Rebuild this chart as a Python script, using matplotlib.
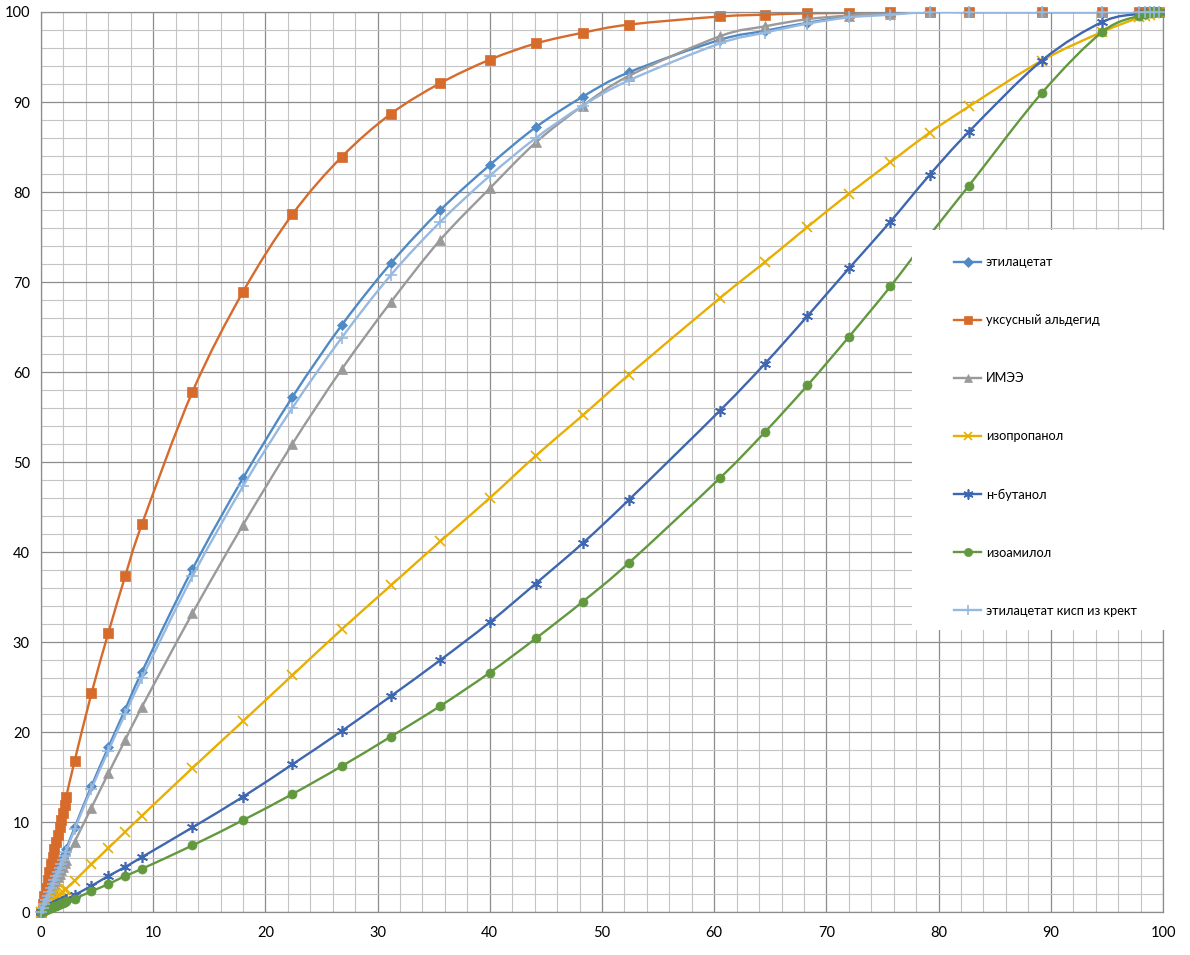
import matplotlib
matplotlib.use("Agg")
import matplotlib.pyplot as plt
from matplotlib.path import Path
from matplotlib.patches import PathPatch, Rectangle
from matplotlib.lines import Line2D
import numpy as np

plt.rcParams['font.family'] = ['Lato', 'DejaVu Sans']

# общая ось x
x = [0, 0.15, 0.3, 0.45, 0.6, 0.75, 0.9, 1.05, 1.2, 1.35, 1.5, 1.65, 1.8, 1.95, 2.1, 2.25,
     3.0, 4.5, 6.0, 7.5, 9.0, 13.5, 18.0, 22.4, 26.8, 31.2, 35.6, 40.0, 44.1, 48.3, 52.4,
     60.5, 64.5, 68.3, 72.0, 75.7, 79.2, 82.7, 89.2, 94.6, 97.9, 98.4, 98.8, 99.2, 99.6]

etilacetat = [0, 0.45, 0.9, 1.4, 1.85, 2.3, 2.8, 3.25, 3.7, 4.2, 4.65, 5.1, 5.6, 6.05, 6.5, 7.0,
              9.4, 14.0, 18.3, 22.5, 26.7, 38.1, 48.2, 57.2, 65.2, 72.1, 78.0, 83.0, 87.2, 90.6, 93.3,
              96.9, 97.9, 98.8, 99.5, 99.8, 100, 100, 100, 100, 100, 100, 100, 100, 100]
uksusny = [0, 0.9, 1.8, 2.7, 3.6, 4.4, 5.3, 6.1, 7.0, 7.8, 8.6, 9.4, 10.2, 11.0, 11.9, 12.8,
           16.8, 24.3, 31.0, 37.3, 43.1, 57.8, 68.9, 77.5, 83.9, 88.7, 92.1, 94.7, 96.5, 97.7, 98.6,
           99.5, 99.7, 99.85, 99.9, 100, 100, 100, 100, 100, 100, 100, 100, 100, 100]
imee = [0, 0.4, 0.8, 1.15, 1.55, 1.95, 2.3, 2.7, 3.1, 3.5, 3.9, 4.25, 4.65, 5.05, 5.45, 5.8,
        7.8, 11.6, 15.4, 19.1, 22.8, 33.2, 43.0, 52.0, 60.3, 67.8, 74.7, 80.4, 85.5, 89.6, 92.9,
        97.3, 98.4, 99.2, 99.6, 99.8, 100, 100, 100, 100, 100, 100, 100, 100, 100]
izopropanol = [0, 0.2, 0.35, 0.55, 0.7, 0.9, 1.05, 1.2, 1.4, 1.55, 1.75, 1.9, 2.1, 2.25, 2.45, 2.6,
               3.5, 5.3, 7.1, 8.9, 10.7, 16.0, 21.2, 26.3, 31.4, 36.3, 41.2, 46.0, 50.7, 55.2, 59.7,
               68.2, 72.2, 76.1, 79.8, 83.3, 86.6, 89.5, 94.6, 97.8, 99.4, 99.6, 99.7, 99.85, 100]
butanol = [0, 0.1, 0.2, 0.3, 0.4, 0.45, 0.55, 0.65, 0.75, 0.85, 0.95, 1.0, 1.1, 1.2, 1.3, 1.4,
           1.9, 2.9, 4.0, 5.0, 6.1, 9.4, 12.8, 16.4, 20.1, 24.0, 28.0, 32.2, 36.5, 41.0, 45.8,
           55.7, 60.9, 66.2, 71.5, 76.7, 81.9, 86.7, 94.6, 98.9, 99.8, 99.9, 100, 100, 100]
izoamilol = [0, 0.1, 0.15, 0.25, 0.3, 0.4, 0.5, 0.55, 0.65, 0.7, 0.8, 0.9, 0.95, 1.05, 1.1, 1.2,
             1.5, 2.3, 3.1, 4.0, 4.8, 7.4, 10.2, 13.1, 16.2, 19.5, 22.9, 26.6, 30.4, 34.5, 38.8,
             48.2, 53.3, 58.5, 63.9, 69.5, 75.2, 80.7, 91.0, 97.8, 99.6, 99.8, 99.9, 100, 100]
etil_kisp = [0, 0.45, 0.9, 1.3, 1.75, 2.2, 2.65, 3.1, 3.55, 4.0, 4.45, 4.9, 5.35, 5.8, 6.25, 6.7,
             9.2, 13.7, 17.9, 22.0, 26.0, 37.3, 47.3, 56.0, 63.8, 70.8, 76.7, 81.8, 86.0, 89.6, 92.4,
             96.5, 97.7, 98.7, 99.4, 99.7, 100, 100, 100, 100, 100, 100, 100, 100, 100]

names = ["этилацетат", "уксусный альдегид", "ИМЭЭ", "изопропанол", "н-бутанол", "изоамилол",
         "этилацетат кисп из крект"]
series = [etilacetat, uksusny, imee, izopropanol, butanol, izoamilol, etil_kisp]
colors = ["#4F8AC6", "#D66B2C", "#9A9A9A", "#E8AE00", "#3F66B0", "#62993E", "#97B9E0"]
markers = ["D", "s", "^", "x", (6, 2, 0), "o", "+"]
msizes = [5.5, 6.5, 6.5, 7, 8, 6.5, 8]


def smooth_path(xs, ys, t=1.0 / 6):
    # сглаженная линия как в Excel (кривые Безье)
    p = np.column_stack([xs, ys]).astype(float)
    verts = [p[0]]
    codes = [Path.MOVETO]
    n = len(p)
    for i in range(n - 1):
        p0 = p[i - 1] if i > 0 else p[i]
        p3 = p[i + 2] if i + 2 < n else p[i + 1]
        c1 = p[i] + (p[i + 1] - p0) * t
        c2 = p[i + 1] - (p3 - p[i]) * t
        verts += [c1, c2, p[i + 1]]
        codes += [Path.CURVE4] * 3
    return Path(verts, codes)


fig = plt.figure(figsize=(11.9, 9.55), dpi=100)
ax = fig.add_axes([41 / 1190, 43 / 955, 1122 / 1190, 900 / 955])

for k, (ys, c, m, ms) in enumerate(zip(series, colors, markers, msizes)):
    ax.add_patch(PathPatch(smooth_path(x, ys), fill=False, edgecolor=c, lw=1.7, zorder=2 + k * 0.1))
    mew = 1.2 if m in ("x", "+", (6, 2, 0)) else 0.5
    ax.plot(x, ys, ls="none", marker=m, ms=ms, color=c, mec=c, mew=mew, clip_on=False,
            zorder=2.05 + k * 0.1)

ax.set_xlim(0, 100)
ax.set_ylim(0, 100)
ax.set_xticks(np.arange(0, 101, 10))
ax.set_yticks(np.arange(0, 101, 10))
ax.set_xticks(np.arange(0, 101, 2), minor=True)
ax.set_yticks(np.arange(0, 101, 2), minor=True)
ax.grid(which="major", color="#8C8C8C", lw=0.9, zorder=0)
ax.grid(which="minor", color="#C4C4C4", lw=0.8, zorder=0)
ax.set_axisbelow(True)
ax.tick_params(which="both", length=0, labelsize=10.5, colors="#000000")
ax.tick_params(axis="x", pad=10)
ax.tick_params(axis="y", pad=8)
for s in ax.spines.values():
    s.set_color("#8C8C8C")
    s.set_linewidth(0.9)

# белый фон легенды
fig.add_artist(Rectangle((912 / 1190, (955 - 630) / 955), 280 / 1190, 400 / 955,
                         transform=fig.transFigure, facecolor="white", edgecolor="none", zorder=5))

handles = [Line2D([], [], color=c, marker=m, ms=ms * 0.9, mec=c, lw=1.7,
                  mew=1.2 if m in ("x", "+", (6, 2, 0)) else 0.5)
           for c, m, ms in zip(colors, markers, msizes)]
leg = fig.legend(handles, names, loc="upper left", bbox_to_anchor=(948 / 1190, (955 - 250) / 955),
                 frameon=False, fontsize=9.2, labelspacing=3.6, handlelength=2.1,
                 handletextpad=0.35, borderpad=0)
leg.set_zorder(6)

fig.savefig("out.png", dpi=100)
